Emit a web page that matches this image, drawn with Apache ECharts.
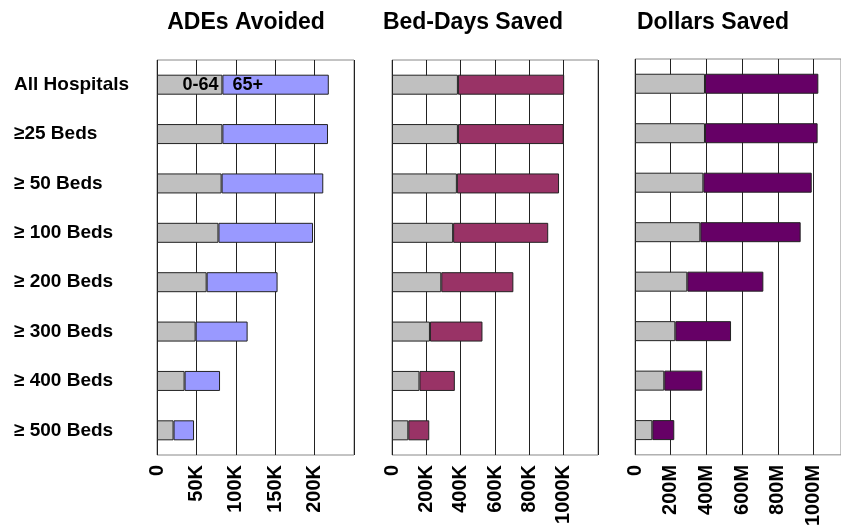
<!DOCTYPE html>
<html>
<head>
<meta charset="utf-8">
<script src="https://cdn.jsdelivr.net/npm/echarts@6/dist/echarts.min.js"></script>
<style>
  html, body { margin: 0; padding: 0; background: #fff; }
  #chart { width: 841px; height: 529px; }
</style>
</head>
<body>
<div id="chart"></div>
<script>
// categories (top to bottom)
const hospitals = ['All Hospitals', '\u226525 Beds', '\u2265 50 Beds', '\u2265 100 Beds',
  '\u2265 200 Beds', '\u2265 300 Beds', '\u2265 400 Beds', '\u2265 500 Beds'];

// ADEs avoided (count)
const adeUnder65 = [83000, 83000, 82000, 78000, 63000, 49000, 35000, 21000];
const adeOver65  = [135000, 134000, 129000, 120000, 90000, 66000, 45000, 26000];

// bed-days saved
const bedUnder65 = [384000, 384000, 378000, 356000, 287000, 221000, 160000, 95000];
const bedOver65  = [619000, 616000, 595000, 554000, 420000, 306000, 206000, 122000];

// dollars saved (millions)
const dolUnder65 = [392, 392, 383, 366, 293, 226, 164, 97];
const dolOver65  = [635, 631, 607, 562, 426, 312, 213, 123];

const panelTitles = ['ADEs Avoided', 'Bed-Days Saved', 'Dollars Saved'];
const ageLabels = ['0-64', '65+'];

const FONT = '"Liberation Sans", Arial, sans-serif';
const GRAY = '#c0c0c0';
const overColors = ['#9999ff', '#993366', '#660066'];

const chart = echarts.init(document.getElementById('chart'));

// third panel runs off the right edge of the picture, so its axis is cut short
const grids = [
  { left: 157, width: 197, top: 60, height: 395 },
  { left: 392, width: 206, top: 60, height: 395 },
  { left: 635, width: 206, top: 59, height: 396 }
];
grids.forEach(g => { g.show = true; g.borderColor = '#888'; g.borderWidth = 1; g.backgroundColor = '#fff'; });

const axisMax = [250000, 1200000, 1154];
const axisStep = [50000, 200000, 200];
const unitFmt = [
  v => v === 0 ? '0' : (v / 1000) + 'K',
  v => v === 0 ? '0' : (v / 1000) + 'K',
  v => v === 0 ? '0' : v + 'M'
];

const xAxes = grids.map((g, i) => ({
  type: 'value', gridIndex: i, min: 0, max: axisMax[i], interval: axisStep[i],
  axisLine: { show: false }, axisTick: { show: false },
  splitLine: { show: true, lineStyle: { color: '#222', width: 1 } },
  axisLabel: {
    rotate: 90, margin: 10, showMaxLabel: i === 2 ? false : false,
    fontFamily: FONT, fontWeight: 'bold', fontSize: 20, color: '#000',
    formatter: v => (v % axisStep[i] === 0) ? unitFmt[i](v) : ''
  }
}));

const yAxes = grids.map((g, i) => ({
  type: 'category', gridIndex: i, data: hospitals, inverse: true,
  axisLine: { show: false }, axisTick: { show: false },
  axisLabel: {
    show: i === 0, align: 'left', margin: 143,
    fontFamily: FONT, fontWeight: 'bold', fontSize: 19, color: '#000'
  }
}));

const under = [adeUnder65, bedUnder65, dolUnder65];
const over = [adeOver65, bedOver65, dolOver65];

const series = [];
for (let i = 0; i < 3; i++) {
  const lbl = (text, pos, extra) => Object.assign({
    show: true, position: pos, formatter: text,
    fontFamily: FONT, fontWeight: 'bold', fontSize: 18, color: '#000'
  }, extra || {});
  series.push({
    type: 'bar', stack: 's' + i, xAxisIndex: i, yAxisIndex: i, barWidth: 20,
    itemStyle: { color: GRAY, borderColor: '#222', borderWidth: 1 },
    data: under[i].map((v, k) => (i === 0 && k === 0)
      ? { value: v, label: lbl(ageLabels[0], 'insideRight', { distance: 4 }) }
      : v)
  });
  series.push({
    type: 'bar', stack: 's' + i, xAxisIndex: i, yAxisIndex: i, barWidth: 20,
    itemStyle: { color: overColors[i], borderColor: '#222', borderWidth: 1 },
    data: over[i].map((v, k) => (i === 0 && k === 0)
      ? { value: v, label: lbl(ageLabels[1], 'insideLeft', { distance: 10 }) }
      : v)
  });
}

const titleX = [241, 468, 708];
chart.setOption({
  animation: false,
  backgroundColor: '#fff',
  title: panelTitles.map((t, i) => ({
    text: t, left: titleX[i], top: 6, textAlign: 'center',
    textStyle: { fontFamily: FONT, fontWeight: 'bold', fontSize: 23, color: '#000' }
  })),
  grid: grids,
  xAxis: xAxes,
  yAxis: yAxes,
  series: series
});
</script>
</body>
</html>
